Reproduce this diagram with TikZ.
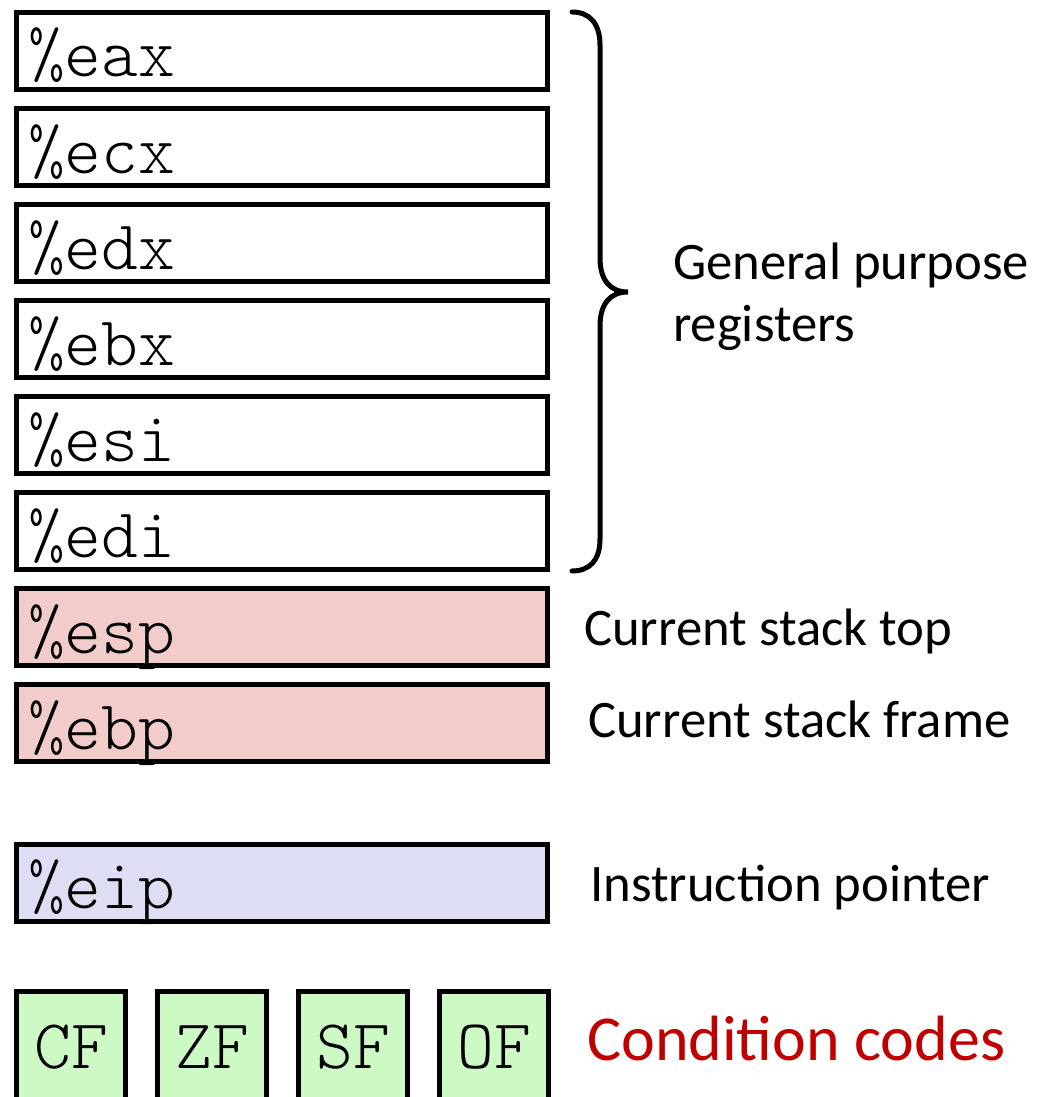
\documentclass[tikz,border=0pt]{standalone}
\usepackage{fontspec}
\setmainfont{Carlito}
\newfontfamily\regfont{lmmonolt10-regular}[Extension=.otf]
\definecolor{pinkfill}{HTML}{F2CBCB}
\definecolor{lavfill}{HTML}{DDDDF3}
\definecolor{greenfill}{HTML}{CDF9C5}
\definecolor{cred}{HTML}{C00000}
\begin{document}
\begin{tikzpicture}[x=1pt,y=-1pt,
  regbox/.style={draw=black, line width=5pt, minimum width=531pt, minimum height=77pt, inner sep=0pt, outer sep=0pt},
  flagbox/.style={draw=black, line width=5pt, fill=greenfill, minimum width=109pt, minimum height=129pt, inner sep=0pt, outer sep=0pt},
  regtxt/.style={inner sep=0pt, font=\regfont\fontsize{70}{72}\selectfont, anchor=base west},
  flagtxt/.style={inner sep=0pt, font=\regfont\fontsize{70}{72}\selectfont, anchor=base},
  lbl/.style={inner sep=0pt, font=\fontsize{52.7}{62}\selectfont, anchor=base west},
  bracepath/.style={line width=5pt, line cap=round}
]
\useasboundingbox (0,0) rectangle (1049,1097);
\begin{scope}
\clip (0,0) rectangle (1049,1097);
% registers
\foreach \n/\i/\f in {eax/0/white, ecx/1/white, edx/2/white, ebx/3/white, esi/4/white, edi/5/white, esp/6/pinkfill, ebp/7/pinkfill} {
  \node[regbox, fill=\f] (\n) at (282, 51+96*\i) {};
  \node[regtxt] (t\n) at (28, 77+96*\i) {\%\n};
}
\node[regbox, fill=lavfill] (eip) at (282, 883) {};
\node[regtxt] (teip) at (28, 908) {\%eip};
% flags
\foreach \n/\x in {CF/71, ZF/212, SF/353, OF/494} {
  \node[flagbox] (\n) at (\x, 1055.5) {};
  \node[flagtxt] (t\n) at (\x, 1068) {\n};
}
\end{scope}
% brace
\draw[bracepath] (572,12) .. controls (590,12) and (600,24) .. (600,45)
  -- (600,258) .. controls (600,280) and (610,292) .. (628,292)
  .. controls (610,292) and (600,304) .. (600,326)
  -- (600,539) .. controls (600,560) and (590,571) .. (572,571);
% labels
\node[lbl] (gpr1) at (673,279) {General purpose};
\node[lbl] (gpr2) at (673,341) {registers};
\node[lbl] (lesp) at (584,645) {Current stack top};
\node[lbl] (lebp) at (588,737) {Current stack frame};
\node[lbl] (leip) at (590,901) {Instruction pointer};
\node[lbl, text=cred, font=\fontsize{64}{70}\selectfont] (lcc) at (587,1060) {Condition codes};
\end{tikzpicture}
\end{document}
